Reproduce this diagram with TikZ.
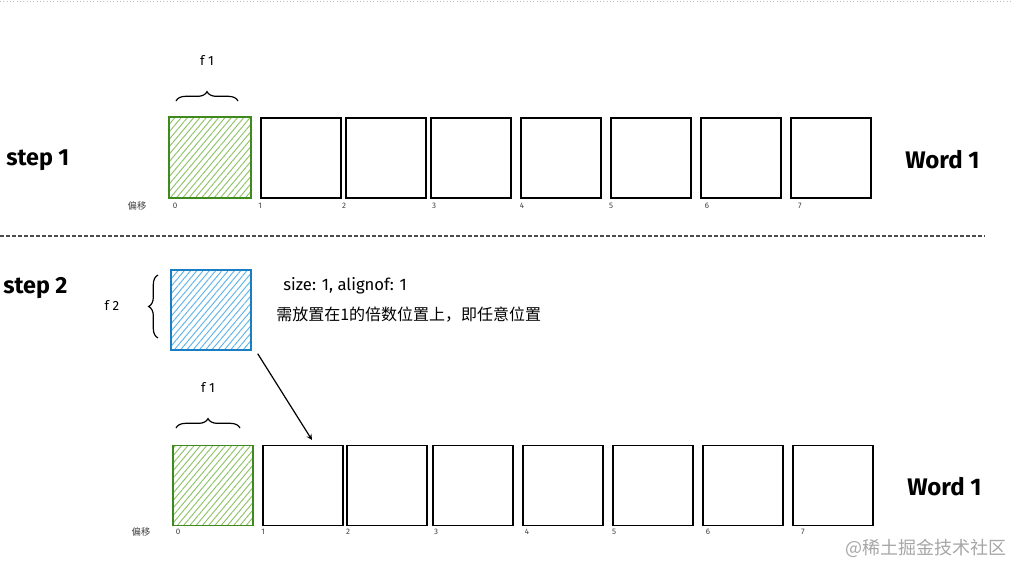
\documentclass[tikz,border=0pt]{standalone}
\usepackage{fontspec}
\setmainfont{Fira Sans}
\newfontfamily\cjk{Noto Sans CJK SC}
\usetikzlibrary{patterns.meta,decorations.pathreplacing,calc}
\definecolor{gstroke}{HTML}{3E8A1E}
\definecolor{ghatch}{HTML}{8CC265}
\definecolor{bstroke}{HTML}{1C7EC2}
\definecolor{bhatch}{HTML}{5FB3E8}
\tikzset{
  cell/.style={draw=black, line width=1.1pt, minimum width=80*0.75pt, minimum height=80*0.75pt, inner sep=0pt},
  greencell/.style={cell, draw=gstroke, pattern={Lines[angle=50,distance=3.6pt,line width=0.7pt]}, pattern color=ghatch},
  bluecell/.style={cell, draw=bstroke, pattern={Lines[angle=50,distance=3.6pt,line width=0.7pt]}, pattern color=bhatch},
  steplabel/.style={font=\fontsize{17.5}{20}\selectfont\bfseries, anchor=west, inner sep=0pt},
  wordlabel/.style={font=\fontsize{18}{20}\selectfont\bfseries, anchor=west, inner sep=0pt},
  idx/.style={font=\fontsize{6}{7}\selectfont, text=black!75, inner sep=0pt},
  flabel/.style={font=\fontsize{10}{12}\selectfont, inner sep=0pt},
  bracestyle/.style={decorate, decoration={brace, amplitude=7pt}, line width=0.9pt},
  note/.style={font=\fontsize{12.5}{14}\selectfont, anchor=west, inner sep=0pt},
}
\begin{document}
\begin{tikzpicture}[x=0.75pt, y=-0.75pt]
\useasboundingbox (0,0) rectangle (1011,565);
% top faint line and separator
\draw[black!25, dotted, line width=0.5pt] (0,1.5) -- (1011,1.5);
\draw[black!70, dashed, dash pattern=on 3pt off 1.5pt, line width=0.8pt] (0,236) -- (985,236);

% ---- step 1 ----
\node[steplabel] (s1) at (6,160) {step 1};
\node[wordlabel] (w1) at (905,160) {Word 1};
\node[greencell, minimum width=82*0.75pt, minimum height=81*0.75pt] (a0) at (210,157.5) {};
\foreach \i/\cx in {1/301,2/386,3/471,4/561,5/651,6/741,7/831}{
  \node[cell] (a\i) at (\cx,158) {};
}
\node[idx, font=\cjk\fontsize{7}{8}\selectfont] (a-off) at (137,206) {偏移};
\foreach \i/\lx in {0/175,1/260,2/344,3/434,4/522,5/611,6/707,7/800}{
  \node[idx] (al\i) at (\lx,206) {\i};
}
\coordinate (ab1) at (176,101);
\coordinate (ab2) at (238,101);
\draw[bracestyle] (ab1) -- (ab2);
\node[flabel] (af1) at (207,60) {f 1};

% ---- step 2 ----
\node[steplabel] (s2) at (3,288) {step 2};
\node[bluecell] (f2) at (211,310) {};
\coordinate (fb1) at (158,338);
\coordinate (fb2) at (158,275);
\draw[bracestyle] (fb1) -- (fb2);
\node[flabel] (f2l) at (112,305) {f 2};
\node[note] (n1) at (283,286) {size: 1, alignof: 1};
\node[note, font=\cjk\fontsize{12}{14}\selectfont] (n2) at (276,315) {需放置在1的倍数位置上，即任意位置};

\node[wordlabel] (w2) at (907,487) {Word 1};
\node[greencell] (b0) at (213,485.5) {};
\foreach \i/\cx in {1/303,2/387,3/473,4/563,5/653,6/743,7/833}{
  \node[cell] (b\i) at (\cx,485.5) {};
}
\node[idx, font=\cjk\fontsize{7}{8}\selectfont] (b-off) at (141,532) {偏移};
\foreach \i/\lx in {0/178,1/263,2/348,3/436,4/527,5/614,6/708,7/803}{
  \node[idx] (bl\i) at (\lx,532) {\i};
}
\coordinate (bb1) at (176,428);
\coordinate (bb2) at (240,428);
\draw[bracestyle] (bb1) -- (bb2);
\node[flabel] (bf1) at (208,387) {f 1};

\coordinate (arrowend) at (312,440);
\draw[-stealth, line width=0.9pt] ($(f2.south east)+(6,3)$) -- (arrowend);

\node[font=\cjk\fontsize{13.5}{15}\selectfont, text=black!35, anchor=west, inner sep=0pt] (wm) at (845,548) {@稀土掘金技术社区};
\end{tikzpicture}
\end{document}
